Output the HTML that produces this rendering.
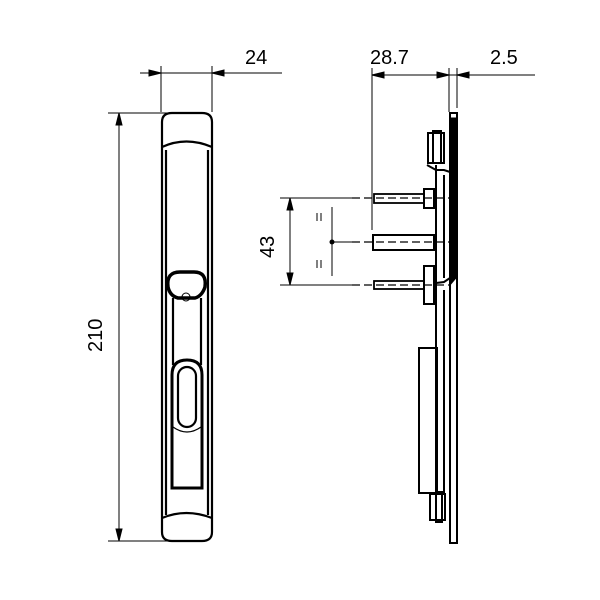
<!DOCTYPE html>
<html><head><style>body{margin:0;background:#fff}svg{display:block}</style></head><body>
<svg width="600" height="600" viewBox="0 0 600 600" xmlns="http://www.w3.org/2000/svg" font-family="Liberation Sans, sans-serif">
<g fill="none" stroke="#000" stroke-width="1">
<line x1="161" y1="66" x2="161" y2="112"/>
<line x1="212" y1="66" x2="212" y2="112"/>
<line x1="140" y1="73" x2="282" y2="73"/>
<path d="M161 73 l-12 -3 v6z M212 73 l12 -3 v6z" fill="#000"/>
<line x1="108" y1="113" x2="175" y2="113"/>
<line x1="108" y1="541" x2="175" y2="541"/>
<line x1="119" y1="113" x2="119" y2="541"/>
<path d="M119 113 l-3 12 h6z M119 541 l-3 -12 h6z" fill="#000"/>
</g>
<text x="245" y="64" font-size="20">24</text>
<text transform="translate(102,352) rotate(-90)" font-size="20">210</text>
<g fill="none" stroke="#000" stroke-width="2.2">
<path d="M162 122 Q162 113 172 113 H202 Q212 113 212 122 V532 Q212 541 202 541 H172 Q162 541 162 532 Z"/>
<path d="M162 147 Q186 136 212 147"/>
<path d="M162 518 Q186 508 212 518"/>
<line x1="166" y1="150" x2="166" y2="515"/>
<line x1="208" y1="150" x2="208" y2="515"/>
<path d="M168 287 Q166 272 180 272 H194 Q207 272 205 287 Q202 296 195 298 H178 Q170 296 168 287 Z" stroke-width="3.5"/>
<line x1="173" y1="298" x2="173" y2="365"/>
<line x1="201" y1="298" x2="201" y2="365"/>
<path d="M172 375 Q172 360 187 360 Q202 360 202 375 V488 H172 Z" stroke-width="3"/>
<rect x="178" y="367" width="18" height="60" rx="9"/>
<path d="M173 427 Q187 437 201 427" stroke-width="1.2"/>
</g>
<circle cx="186" cy="297" r="4" fill="none" stroke="#000"/>
<g fill="none" stroke="#000" stroke-width="1">
<line x1="372" y1="68" x2="372" y2="230"/>
<line x1="449" y1="68" x2="449" y2="112"/>
<line x1="457" y1="68" x2="457" y2="108"/>
<line x1="372" y1="75" x2="535" y2="75"/>
<path d="M372 75 l12 -3 v6z M449 75 l-12 -3 v6z M457 75 l12 -3 v6z" fill="#000"/>
<line x1="280" y1="198" x2="352" y2="198"/>
<line x1="280" y1="285" x2="352" y2="285"/>
<line x1="290" y1="198" x2="290" y2="285"/>
<path d="M290 198 l-3 12 h6z M290 285 l-3 -12 h6z" fill="#000"/>
<line x1="330" y1="242" x2="352" y2="242"/>
<line x1="332" y1="207" x2="332" y2="276"/>
<line x1="317" y1="213" x2="317" y2="221"/><line x1="321" y1="213" x2="321" y2="221"/>
<line x1="317" y1="260" x2="317" y2="268"/><line x1="321" y1="260" x2="321" y2="268"/>
</g>
<circle cx="332" cy="242" r="2.5" fill="#000"/>
<text x="370" y="64" font-size="20">28.7</text>
<text x="490" y="64" font-size="20">2.5</text>
<text transform="translate(274,258) rotate(-90)" font-size="20">43</text>
<g fill="none" stroke="#000" stroke-width="2">
<rect x="450" y="113" width="7" height="430"/>
<path d="M450 118 H456 V278 L450 285 Z" fill="#000" stroke-width="1"/>
<line x1="436" y1="165" x2="436" y2="493"/>
<line x1="444" y1="175" x2="444" y2="278"/>
<line x1="444" y1="290" x2="444" y2="493"/>
<path d="M427 165 L436 170 H444 L450 172"/>
<path d="M436 283 L444 282 L450 278"/>
<rect x="428" y="133" width="16" height="30"/>
<rect x="433" y="131" width="8" height="32"/>
<rect x="374" y="194" width="50" height="9" stroke-width="1.8"/>
<rect x="424" y="189" width="10" height="19"/>
<rect x="373" y="235" width="61" height="15"/>
<rect x="374" y="281" width="50" height="8" stroke-width="1.8"/>
<rect x="424" y="266" width="10" height="38"/>
<rect x="419" y="348" width="18" height="145"/>
<rect x="430" y="494" width="15" height="26"/>
<rect x="436" y="492" width="6" height="30"/>
</g>
<g stroke="#000" stroke-width="1.2" stroke-dasharray="8 4">
<line x1="352" y1="198" x2="449" y2="198"/>
<line x1="352" y1="242" x2="449" y2="242"/>
<line x1="352" y1="285" x2="449" y2="285"/>
</g>
</svg>
</body></html>
